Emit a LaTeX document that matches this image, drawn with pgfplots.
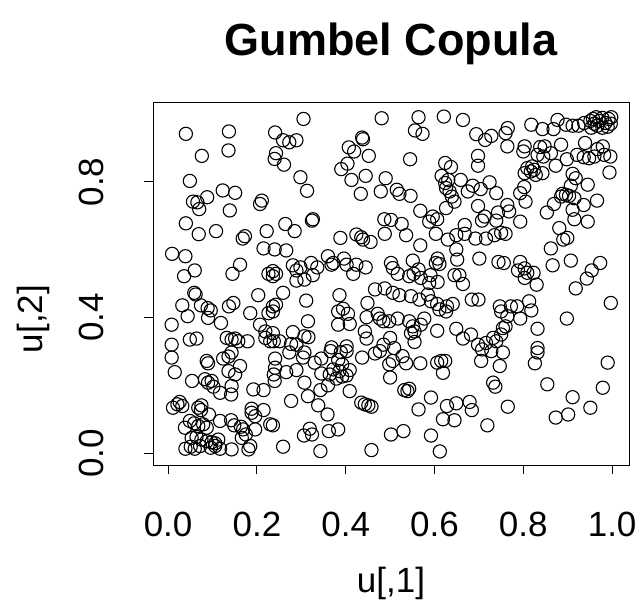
\documentclass[border=0pt]{standalone}
\usepackage{pgfplots}
\pgfplotsset{compat=1.18}
\usepackage{fontspec}
\setmainfont{Liberation Sans}
\begin{document}
\begin{tikzpicture}
\path[use as bounding box] (0,0) rectangle (640bp,603bp);
\begin{axis}[
  at={(153bp,138bp)}, anchor=south west,
  width=476bp, height=362bp, scale only axis,
  xmin=-0.034, xmax=1.038, ymin=-0.035, ymax=1.033,
  axis line style={line width=1bp},
  every tick/.style={black, line width=1bp},
  tick align=outside, major tick length=9bp,
  xtick pos=bottom, ytick pos=left,
  xtick={0,0.2,0.4,0.6,0.8,1}, xticklabels={0.0,0.2,0.4,0.6,0.8,1.0},
  ytick={0,0.4,0.8}, yticklabels={0.0,0.4,0.8},
  ticklabel style={font=\fontsize{35bp}{40bp}\selectfont},
  xticklabel style={anchor=base, yshift=-62bp},
  yticklabel style={rotate=90, anchor=base, yshift=41bp},
  clip=false,
]
\addplot[only marks, mark=o, mark size=6.6bp, mark options={line width=1.1bp, black}] table {
x y
0.040 0.942
0.137 0.949
0.136 0.893
0.076 0.877
0.049 0.803
0.123 0.775
0.151 0.768
0.088 0.755
0.056 0.742
0.066 0.740
0.070 0.720
0.139 0.716
0.211 0.745
0.207 0.735
0.040 0.678
0.305 0.986
0.481 0.988
0.241 0.946
0.259 0.923
0.273 0.917
0.289 0.923
0.243 0.885
0.240 0.868
0.261 0.851
0.298 0.814
0.313 0.774
0.437 0.931
0.439 0.926
0.407 0.902
0.419 0.890
0.452 0.877
0.404 0.854
0.390 0.838
0.413 0.806
0.445 0.818
0.434 0.765
0.479 0.772
0.326 0.690
0.324 0.686
0.264 0.676
0.487 0.690
0.564 0.991
0.621 0.993
0.664 0.983
0.556 0.952
0.573 0.942
0.694 0.941
0.714 0.924
0.728 0.936
0.545 0.867
0.624 0.856
0.637 0.844
0.698 0.877
0.698 0.848
0.490 0.811
0.616 0.818
0.624 0.797
0.631 0.806
0.659 0.806
0.626 0.782
0.634 0.772
0.639 0.757
0.645 0.742
0.675 0.772
0.686 0.789
0.704 0.779
0.724 0.799
0.739 0.767
0.515 0.777
0.521 0.765
0.546 0.759
0.698 0.729
0.626 0.723
0.568 0.715
0.596 0.698
0.606 0.690
0.588 0.683
0.668 0.673
0.713 0.698
0.739 0.686
0.743 0.710
0.707 0.686
0.502 0.688
0.526 0.676
0.818 0.969
0.843 0.956
0.868 0.956
0.877 0.983
0.896 0.969
0.911 0.966
0.924 0.966
0.937 0.974
0.951 0.980
0.957 0.986
0.964 0.991
0.971 0.980
0.978 0.989
0.985 0.974
0.992 0.986
0.998 0.991
0.967 0.966
0.978 0.960
0.953 0.960
0.990 0.963
0.997 0.972
0.960 0.972
0.765 0.959
0.760 0.944
0.764 0.905
0.803 0.905
0.800 0.890
0.838 0.903
0.848 0.905
0.832 0.880
0.845 0.875
0.862 0.885
0.885 0.910
0.898 0.867
0.873 0.848
0.921 0.880
0.939 0.915
0.936 0.873
0.948 0.870
0.960 0.875
0.967 0.897
0.979 0.905
0.982 0.880
0.996 0.875
0.994 0.828
0.809 0.841
0.817 0.831
0.824 0.836
0.828 0.821
0.820 0.846
0.803 0.826
0.843 0.826
0.911 0.824
0.918 0.811
0.907 0.789
0.945 0.792
0.802 0.785
0.793 0.767
0.805 0.742
0.888 0.765
0.896 0.762
0.903 0.759
0.885 0.757
0.915 0.752
0.966 0.745
0.936 0.732
0.869 0.735
0.853 0.710
0.911 0.718
0.915 0.690
0.945 0.683
0.793 0.683
0.764 0.732
0.768 0.713
0.881 0.664
0.760 0.647
0.890 0.630
0.899 0.635
0.862 0.604
0.907 0.568
0.866 0.554
0.793 0.564
0.788 0.539
0.803 0.545
0.809 0.532
0.823 0.532
0.803 0.517
0.830 0.497
0.756 0.561
0.973 0.561
0.954 0.539
0.943 0.515
0.918 0.486
0.997 0.443
0.898 0.397
0.832 0.367
0.813 0.448
0.818 0.421
0.786 0.433
0.793 0.397
0.772 0.433
0.764 0.404
0.760 0.374
0.832 0.310
0.069 0.646
0.108 0.655
0.168 0.633
0.173 0.640
0.222 0.655
0.009 0.588
0.039 0.581
0.060 0.539
0.036 0.522
0.162 0.556
0.145 0.529
0.215 0.604
0.226 0.529
0.059 0.473
0.062 0.468
0.032 0.436
0.044 0.404
0.074 0.436
0.089 0.428
0.096 0.421
0.090 0.399
0.119 0.384
0.137 0.433
0.147 0.443
0.203 0.466
0.185 0.413
0.226 0.413
0.207 0.379
0.008 0.379
0.049 0.335
0.064 0.338
0.008 0.320
0.132 0.340
0.143 0.335
0.151 0.338
0.158 0.330
0.179 0.330
0.219 0.359
0.219 0.340
0.230 0.330
0.008 0.282
0.015 0.239
0.087 0.272
0.090 0.265
0.124 0.279
0.136 0.285
0.143 0.297
0.162 0.257
0.136 0.242
0.151 0.232
0.054 0.213
0.083 0.218
0.090 0.208
0.098 0.213
0.102 0.196
0.117 0.178
0.143 0.198
0.142 0.173
0.192 0.188
0.215 0.186
0.011 0.134
0.021 0.144
0.026 0.151
0.032 0.139
0.068 0.134
0.074 0.127
0.075 0.141
0.092 0.114
0.188 0.131
0.196 0.109
0.188 0.119
0.215 0.127
0.230 0.085
0.049 0.095
0.059 0.088
0.068 0.080
0.079 0.085
0.087 0.075
0.038 0.075
0.117 0.095
0.142 0.097
0.149 0.082
0.164 0.078
0.169 0.070
0.175 0.055
0.196 0.070
0.053 0.045
0.064 0.048
0.075 0.040
0.087 0.035
0.098 0.032
0.106 0.029
0.113 0.040
0.039 0.013
0.051 0.019
0.060 0.013
0.072 0.021
0.096 0.016
0.106 0.021
0.117 0.013
0.143 0.011
0.181 0.011
0.185 0.021
0.166 0.045
0.241 0.279
0.241 0.252
0.238 0.232
0.240 0.213
0.273 0.297
0.307 0.297
0.304 0.282
0.345 0.279
0.330 0.267
0.366 0.301
0.389 0.298
0.402 0.301
0.383 0.275
0.392 0.262
0.409 0.245
0.386 0.242
0.372 0.247
0.364 0.232
0.345 0.235
0.266 0.239
0.289 0.245
0.392 0.226
0.379 0.220
0.402 0.229
0.437 0.282
0.466 0.294
0.477 0.301
0.498 0.262
0.500 0.223
0.307 0.208
0.360 0.200
0.343 0.186
0.315 0.168
0.409 0.183
0.277 0.154
0.338 0.141
0.359 0.114
0.435 0.149
0.443 0.144
0.451 0.141
0.458 0.137
0.236 0.082
0.319 0.072
0.306 0.052
0.324 0.055
0.362 0.065
0.383 0.070
0.259 0.019
0.343 0.006
0.458 0.009
0.502 0.055
0.506 0.272
0.528 0.286
0.536 0.265
0.568 0.265
0.606 0.267
0.615 0.272
0.624 0.272
0.619 0.237
0.705 0.272
0.728 0.301
0.707 0.306
0.747 0.257
0.732 0.208
0.737 0.196
0.532 0.186
0.539 0.183
0.543 0.190
0.592 0.164
0.564 0.129
0.628 0.139
0.649 0.147
0.679 0.151
0.684 0.127
0.619 0.100
0.645 0.097
0.719 0.082
0.530 0.065
0.592 0.052
0.612 0.005
0.832 0.297
0.826 0.265
0.754 0.297
0.990 0.267
0.854 0.203
0.979 0.193
0.911 0.165
0.951 0.134
0.765 0.137
0.873 0.105
0.901 0.114
0.285 0.655
0.388 0.635
0.424 0.645
0.435 0.637
0.439 0.630
0.456 0.623
0.488 0.647
0.240 0.601
0.266 0.598
0.360 0.581
0.372 0.561
0.368 0.556
0.396 0.574
0.402 0.556
0.424 0.556
0.445 0.548
0.417 0.529
0.281 0.554
0.289 0.539
0.298 0.548
0.322 0.561
0.336 0.548
0.326 0.525
0.307 0.512
0.289 0.509
0.236 0.537
0.243 0.529
0.236 0.522
0.259 0.473
0.236 0.433
0.243 0.438
0.236 0.418
0.311 0.450
0.386 0.466
0.466 0.483
0.488 0.486
0.449 0.443
0.383 0.418
0.394 0.426
0.405 0.411
0.383 0.379
0.409 0.381
0.447 0.401
0.472 0.411
0.477 0.397
0.485 0.389
0.315 0.389
0.281 0.357
0.307 0.345
0.316 0.342
0.443 0.359
0.447 0.338
0.251 0.330
0.277 0.322
0.289 0.320
0.236 0.354
0.238 0.330
0.368 0.312
0.402 0.315
0.485 0.320
0.536 0.643
0.603 0.647
0.630 0.630
0.649 0.643
0.668 0.647
0.692 0.633
0.716 0.633
0.735 0.643
0.750 0.650
0.568 0.613
0.649 0.601
0.502 0.561
0.506 0.546
0.551 0.568
0.607 0.574
0.611 0.558
0.603 0.561
0.651 0.571
0.701 0.574
0.744 0.564
0.517 0.529
0.543 0.522
0.553 0.529
0.564 0.542
0.569 0.517
0.591 0.525
0.607 0.505
0.588 0.502
0.645 0.525
0.656 0.525
0.664 0.499
0.506 0.473
0.521 0.466
0.547 0.463
0.566 0.453
0.585 0.468
0.592 0.448
0.606 0.440
0.611 0.424
0.628 0.433
0.641 0.440
0.626 0.418
0.684 0.453
0.699 0.453
0.747 0.433
0.750 0.418
0.517 0.397
0.543 0.389
0.551 0.374
0.555 0.359
0.547 0.354
0.577 0.397
0.569 0.379
0.498 0.389
0.500 0.340
0.606 0.361
0.649 0.367
0.682 0.350
0.664 0.338
0.698 0.320
0.716 0.325
0.732 0.340
0.739 0.330
0.750 0.350
0.754 0.369
0.555 0.328
0.509 0.310
};
\end{axis}
\node[font=\bfseries\fontsize{45bp}{50bp}\selectfont, anchor=base] at (391bp,547bp) {Gumbel Copula};
\node[font=\fontsize{35bp}{40bp}\selectfont, anchor=base] at (391bp,11bp) {u[,1]};
\node[font=\fontsize{35bp}{40bp}\selectfont, anchor=base, rotate=90] at (42bp,284bp) {u[,2]};
\end{tikzpicture}
\end{document}
